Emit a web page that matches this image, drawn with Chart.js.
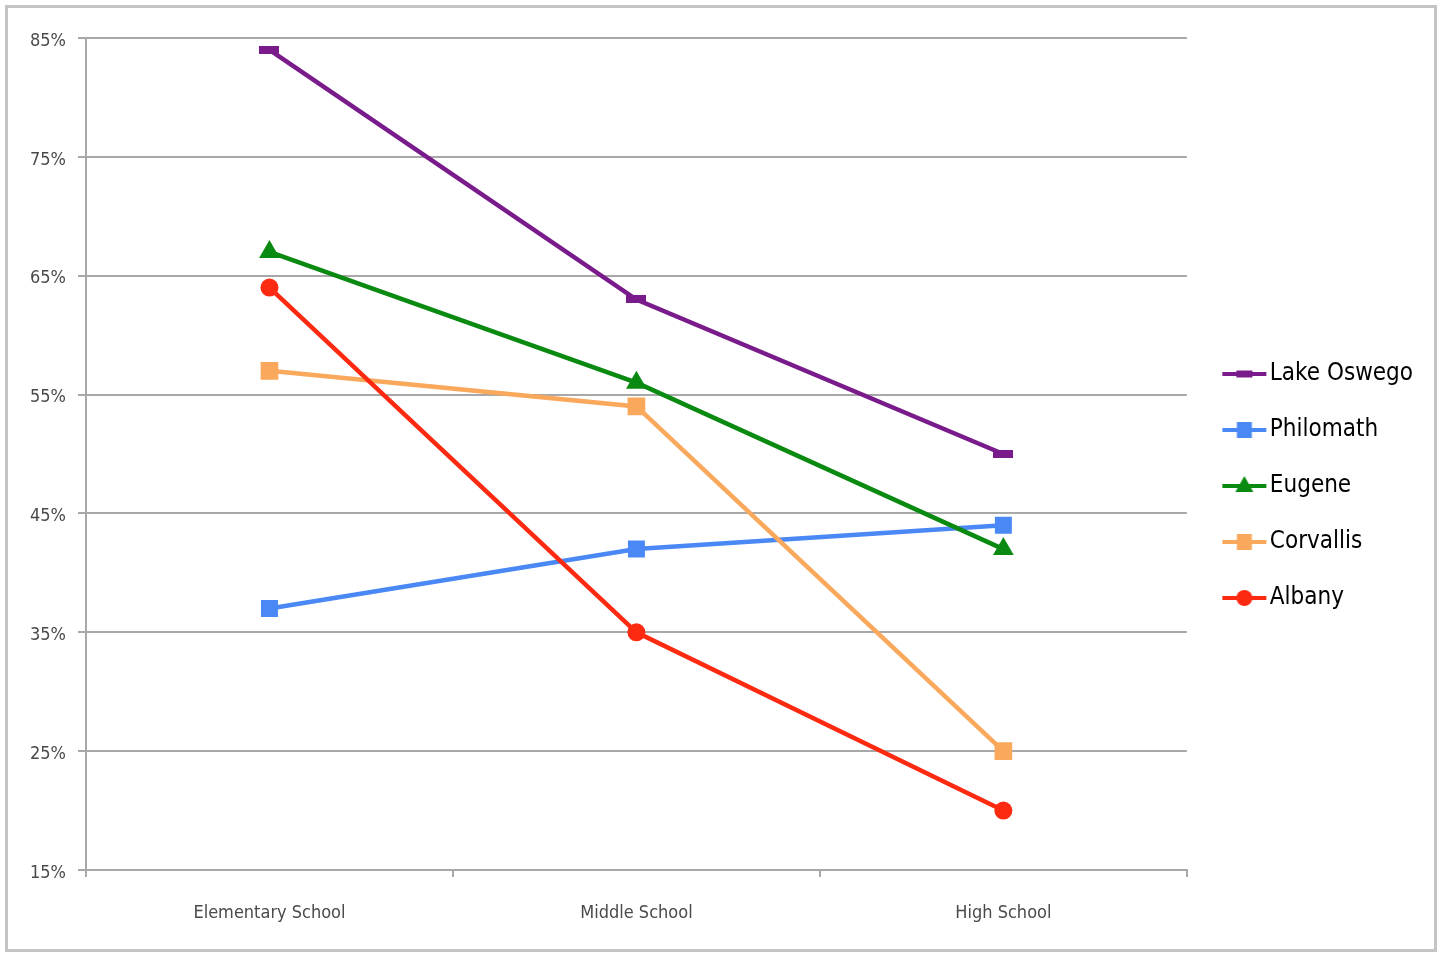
<!DOCTYPE html>
<html>
<head>
<meta charset="utf-8">
<script src="https://cdn.jsdelivr.net/npm/chart.js@4.4.1/dist/chart.umd.min.js"></script>
<style>
  html, body { margin: 0; padding: 0; background: #fff; overflow: hidden; }
  #wrap { width: 1442px; height: 953px; position: relative; }
</style>
</head>
<body>
<div id="wrap"><canvas id="c"></canvas></div>
<script>
// Share of students by school level, per district (percent)
const categories = ['Elementary School', 'Middle School', 'High School'];
const lakeOswego = [84, 63, 50];
const philomath  = [37, 42, 44];
const eugene     = [67, 56, 42];
const corvallis  = [57, 54, 25];
const albany     = [64, 35, 20];
const yTicks = [15, 25, 35, 45, 55, 65, 75, 85];

const FONT = "'Liberation Sans Narrow', 'DejaVu Sans Condensed', 'Liberation Sans', sans-serif";
const GRID = '#a8a8a8';

const colors = {
  lakeOswego: '#7a1b8c',
  philomath: '#4a88f5',
  eugene: '#0b8a12',
  corvallis: '#f9a85c',
  albany: '#fd2a12'
};

// Flat bar marker used by the Lake Oswego series
function dashMarker(color, w, h) {
  const c = document.createElement('canvas');
  c.width = w; c.height = h;
  const g = c.getContext('2d');
  g.fillStyle = color;
  g.fillRect(0, 0, w, h);
  return c;
}

// Legend sample: a short line with the series marker on it
function legendIcon(color, marker, W, lineFrom, lineTo) {
  const H = 24;
  const c = document.createElement('canvas');
  c.width = W; c.height = H;
  const g = c.getContext('2d');
  const cy = H / 2;
  g.strokeStyle = color;
  g.lineWidth = 4;
  g.beginPath();
  g.moveTo(lineFrom, cy);
  g.lineTo(lineTo, cy);
  g.stroke();
  const cx = (lineFrom + lineTo) / 2;
  g.fillStyle = color;
  g.beginPath();
  if (marker === 'dash') {
    g.rect(cx - 8, cy - 3.5, 16, 7);
  } else if (marker === 'rect') {
    g.rect(cx - 7.5, cy - 8, 15, 16);
  } else if (marker === 'triangle') {
    g.moveTo(cx, cy - 10);
    g.lineTo(cx + 9, cy + 6);
    g.lineTo(cx - 9, cy + 6);
    g.closePath();
  } else if (marker === 'circle') {
    g.arc(cx, cy, 8, 0, Math.PI * 2);
  }
  g.fill();
  return c;
}

const ICON_W = 62, LINE_FROM = 15, LINE_TO = 59;

const series = [
  { label: 'Lake Oswego', data: lakeOswego, color: colors.lakeOswego, style: dashMarker(colors.lakeOswego, 20, 8), radius: 10, legendMarker: 'dash' },
  { label: 'Philomath', data: philomath, color: colors.philomath, style: 'rect', radius: 12, legendMarker: 'rect' },
  { label: 'Eugene', data: eugene, color: colors.eugene, style: 'triangle', radius: 12, legendMarker: 'triangle' },
  { label: 'Corvallis', data: corvallis, color: colors.corvallis, style: 'rect', radius: 12.5, legendMarker: 'rect' },
  { label: 'Albany', data: albany, color: colors.albany, style: 'circle', radius: 9, legendMarker: 'circle' }
];

const datasets = series.map((s, i) => ({
  label: s.label,
  data: s.data,
  borderColor: s.color,
  backgroundColor: s.color,
  borderWidth: 4.5,
  tension: 0,
  pointStyle: s.style,
  pointRadius: s.radius,
  pointHoverRadius: s.radius,
  pointBorderWidth: 0,
  pointBackgroundColor: s.color,
  order: series.length - i,
  legendIcon: legendIcon(s.color, s.legendMarker, ICON_W, LINE_FROM, LINE_TO)
}));

const framePlugin = {
  id: 'frame',
  beforeDraw(chart) {
    const ctx = chart.ctx;
    ctx.save();
    ctx.fillStyle = '#ffffff';
    ctx.fillRect(0, 0, chart.width, chart.height);
    ctx.restore();
  },
  afterDraw(chart) {
    const ctx = chart.ctx;
    ctx.save();
    ctx.strokeStyle = '#c4c4c4';
    ctx.lineWidth = 3;
    ctx.strokeRect(6.5, 6.5, 1429, 944);
    ctx.restore();
  }
};

new Chart(document.getElementById('c'), {
  type: 'line',
  data: { labels: categories, datasets },
  options: {
    responsive: true,
    maintainAspectRatio: false,
    animation: false,
    events: [],
    layout: { padding: { top: 38, right: 19, bottom: 19, left: 0 } },
    plugins: {
      tooltip: { enabled: false },
      legend: {
        position: 'right',
        labels: {
          usePointStyle: true,
          pointStyleWidth: 39,
          boxHeight: 20,
          padding: 32,
          color: '#222',
          font: { family: FONT, size: 24 },
          sort: (a, b) => a.datasetIndex - b.datasetIndex,
          generateLabels(chart) {
            return chart.data.datasets.map((ds, i) => ({
              text: ds.label,
              fillStyle: ds.borderColor,
              strokeStyle: ds.borderColor,
              lineWidth: 0,
              pointStyle: ds.legendIcon,
              hidden: false,
              datasetIndex: i
            }));
          }
        }
      }
    },
    scales: {
      x: {
        offset: true,
        afterFit(scale) { scale.height = 64; },
        grid: {
          offset: true,
          drawOnChartArea: false,
          drawTicks: true,
          tickLength: 7,
          color: GRID,
          lineWidth: 2
        },
        border: { display: true, color: GRID, width: 2 },
        ticks: {
          color: '#4a4a4a',
          padding: 26,
          font: { family: FONT, size: 18 },
          maxRotation: 0
        }
      },
      y: {
        min: yTicks[0],
        max: yTicks[yTicks.length - 1],
        afterFit(scale) { scale.width = 86; },
        afterBuildTicks(scale) { scale.ticks = yTicks.map(v => ({ value: v })); },
        grid: {
          color: GRID,
          lineWidth: 2,
          tickLength: 8,
          drawTicks: true
        },
        border: { display: true, color: GRID, width: 2 },
        ticks: {
          color: '#4a4a4a',
          padding: 12,
          labelOffset: 3,
          font: { family: FONT, size: 18 },
          callback: v => v + '%'
        }
      }
    }
  },
  plugins: [framePlugin]
});
</script>
</body>
</html>
